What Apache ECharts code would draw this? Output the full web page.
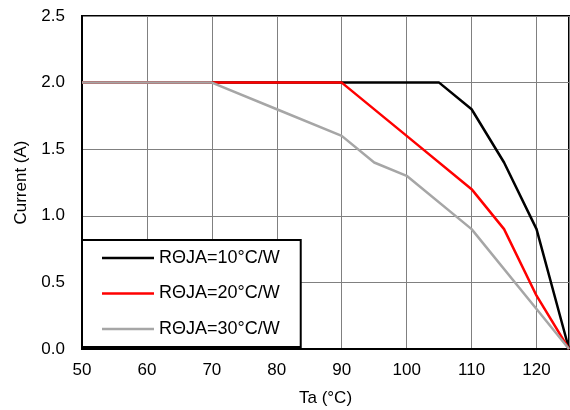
<!DOCTYPE html>
<html>
<head>
<meta charset="utf-8">
<script src="https://cdn.jsdelivr.net/npm/echarts@6/dist/echarts.min.js"></script>
<style>html,body{margin:0;padding:0;background:#fff;}#c{width:570px;height:410px;}</style>
</head>
<body>
<div id="c"></div>
<script>
var seriesNames = ['RΘJA=10°C/W', 'RΘJA=20°C/W', 'RΘJA=30°C/W'];
var r10 = [[50, 2.0], [105, 2.0], [110, 1.8], [115, 1.4], [120, 0.9], [125, 0.0]];
var r20 = [[50, 2.0], [90, 2.0], [100, 1.6], [110, 1.2], [115, 0.9], [120, 0.4], [125, 0.0]];
var r30 = [[50, 2.0], [70, 2.0], [80, 1.8], [90, 1.6], [95, 1.4], [100, 1.3], [110, 0.9], [120, 0.3], [125, 0.0]];
var colors = ['#000000', '#ff0000', '#a6a6a6'];
var xTitle = 'Ta (°C)';
var yTitle = 'Current (A)';

var font = 'Liberation Sans, Arial, sans-serif';
var chart = echarts.init(document.getElementById('c'), null, {renderer: 'canvas'});
var dataSets = [r10, r20, r30];
chart.setOption({
  animation: false,
  backgroundColor: '#fff',
  grid: {left: 82, right: 1, top: 16, bottom: 61, show: true, borderColor: '#000', borderWidth: 2, backgroundColor: 'transparent', containLabel: false, outerBoundsMode: 'none'},
  xAxis: {
    type: 'value', min: 50, max: 125, interval: 10,
    name: xTitle, nameLocation: 'middle', nameGap: 41,
    nameTextStyle: {color: '#000', fontSize: 17, fontFamily: font},
    axisLine: {show: true, lineStyle: {color: '#000', width: 2}},
    axisTick: {show: false},
    axisLabel: {color: '#000', fontSize: 17, fontFamily: font, margin: 13, showMaxLabel: false},
    splitLine: {show: true, lineStyle: {color: '#808080', width: 1}}
  },
  yAxis: {
    type: 'value', min: 0, max: 2.5, interval: 0.5,
    name: yTitle, nameLocation: 'middle', nameGap: 52, nameRotate: 90,
    nameTextStyle: {color: '#000', fontSize: 17, fontFamily: font},
    axisLine: {show: true, lineStyle: {color: '#000', width: 2}},
    axisTick: {show: false},
    axisLabel: {color: '#000', fontSize: 17, fontFamily: font, margin: 17, formatter: function (v) { return v.toFixed(1); }},
    splitLine: {show: true, lineStyle: {color: '#808080', width: 1}}
  },
  legend: {
    orient: 'vertical', left: 82, top: 240,
    backgroundColor: '#fff', borderColor: '#000', borderWidth: 2,
    padding: [9, 21, 9, 20],
    itemWidth: 52, itemHeight: 15, itemGap: 17.5,
    icon: 'path://M0,0 L52,0 L52,2.5 L0,2.5 Z',
    textStyle: {color: '#000', fontSize: 18, fontFamily: font, lineHeight: 18},
    data: seriesNames
  },
  series: dataSets.map(function (d, i) {
    return {
      name: seriesNames[i], type: 'line', data: d, symbol: 'none',
      lineStyle: {color: colors[i], width: 2.5}, itemStyle: {color: colors[i]},
      z: 2 + i
    };
  })
});
</script>
</body>
</html>
